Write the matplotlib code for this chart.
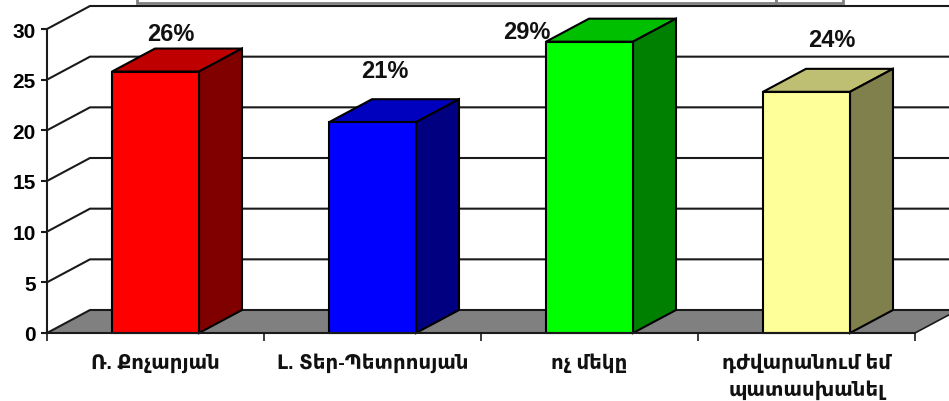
import matplotlib
matplotlib.use("Agg")
import matplotlib.pyplot as plt
from matplotlib.patches import Rectangle

W, H = 949, 402

categories = ["Ռ. Քոչարյան", "Լ. Տեր-Պետրոսյան", "ոչ մեկը", "դժվարանում եմ\nպատասխանել"]
values = [25.8, 20.8, 28.75, 23.8]
labels = ["26%", "21%", "29%", "24%"]
y_ticks = [0, 5, 10, 15, 20, 25, 30]

front_colors = ["#ff0000", "#0000ff", "#00ff00", "#ffff99"]
top_colors = ["#bf0000", "#0000bf", "#00bf00", "#bfbf73"]
side_colors = ["#800000", "#000080", "#008000", "#80804d"]

# label offsets from the top of each bar, in pixels
label_dx = [15, 12, -63, 25]
label_dy = [38, 52, 10, 52]

plt.rcParams["font.family"] = ["Liberation Sans", "DejaVu Sans"]
plt.rcParams["font.weight"] = "bold"

fig = plt.figure(figsize=(W / 100, H / 100), dpi=100)
ax = fig.add_axes([47 / W, 1 - 334 / H, (915 - 47) / W, (334 - 30) / H])
ax.set_xlim(0, len(categories))
ax.set_ylim(0, 30)

# depth of the fake 3d, in data units
dx = 43 / 217
dy = 23 / (304 / 30)
bar_w = 87 / 217
line = "#1a1a1a"
n = len(categories)

# floor
ax.fill([0, n, n + dx, dx], [0, 0, dy, dy], color="#808080", lw=0, zorder=1, clip_on=False)
ax.plot([n, n + dx], [0, dy], color=line, lw=1.2, zorder=2, clip_on=False)

# back wall lines
for t in y_ticks:
    ax.plot([0, dx, n + dx], [t, t + dy, t + dy], color=line, lw=1.5, zorder=2, clip_on=False)

# bars
xs = [i + 0.5 for i in range(n)]
for x, v, c, tc, sc in zip(xs, values, front_colors, top_colors, side_colors):
    l, r = x - bar_w / 2, x + bar_w / 2
    ax.bar(x, v, width=bar_w, color=c, edgecolor="black", linewidth=1.5, zorder=5, clip_on=False)
    ax.fill([l, r, r + dx, l + dx], [v, v, v + dy, v + dy], facecolor=tc, edgecolor="black",
            linewidth=1.5, zorder=4, clip_on=False)
    ax.fill([r, r + dx, r + dx, r], [0, dy, v + dy, v], facecolor=sc, edgecolor="black",
            linewidth=1.5, zorder=4, clip_on=False)

for x, v, lab, ox, oy in zip(xs, values, labels, label_dx, label_dy):
    ax.annotate(lab, (x, v), xytext=(ox * 0.72, oy * 0.72), textcoords="offset points",
                ha="center", va="center", fontsize=17, color="#111111", zorder=6)

ax.set_facecolor("none")
for s in ["top", "right"]:
    ax.spines[s].set_visible(False)
for s in ["left", "bottom"]:
    ax.spines[s].set_color(line)
    ax.spines[s].set_linewidth(1.5)
    ax.spines[s].set_zorder(7)

ax.set_yticks(y_ticks)
ax.tick_params(axis="y", length=4, width=1.5, color=line, pad=4, labelsize=15)
ax.set_xticks(range(n + 1))
ax.set_xticklabels([])
ax.tick_params(axis="x", length=5.5, width=1.2, color=line)

for x, cat in zip(xs, categories):
    ax.annotate(cat, (x, 0), xytext=(0, -14), textcoords="offset points", ha="center", va="top",
                fontsize=14.2, linespacing=1.45, color="#111111")

# bottom edge of the legend box, cropped by the top of the picture
for x0, x1 in [(137, 776), (776, 843)]:
    fig.add_artist(Rectangle((x0 / W, 1 - 3.5 / H), (x1 - x0) / W, 10 / H, transform=fig.transFigure,
                             facecolor="white", edgecolor="#808080", linewidth=2))

fig.savefig("out.png", dpi=100)
